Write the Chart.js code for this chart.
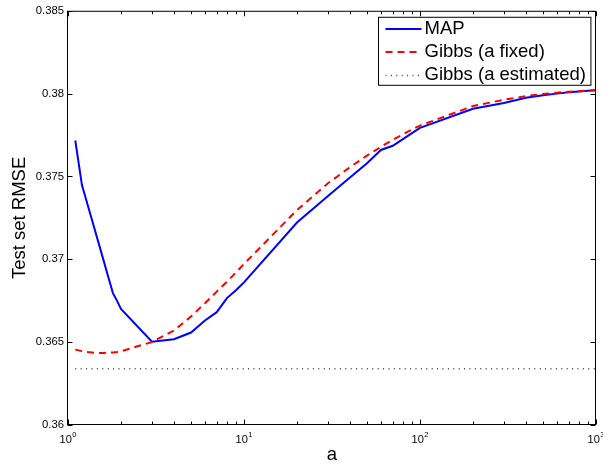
<!DOCTYPE html>
<html lang="en">
<head>
  <meta charset="UTF-8">
  <title>Test set RMSE vs a</title>
  <style>
    body { margin: 0; background: #fff; }
    #chart { display: block; }
  </style>
  <script src="https://cdn.jsdelivr.net/npm/chart.js"></script>
</head>
<body>
  <canvas id="chart" width="603" height="466"></canvas>
  <script>
    // hyperparameter a (log x axis)
    const aValues = [1.1, 1.2, 1.3, 1.4, 1.5, 1.6, 1.7, 1.8, 1.9, 2,
                     3, 4, 5, 6, 7, 8, 9, 10,
                     20, 30, 40, 50, 60, 70, 80, 90, 100,
                     200, 300, 400, 500, 600, 700, 800, 900, 1000];

    const mapRmse = [0.37717, 0.37448, 0.37320, 0.37201, 0.37090, 0.36986, 0.36887, 0.36796, 0.36749, 0.36701,
                     0.36503, 0.36518, 0.36558, 0.36631, 0.36681, 0.36766, 0.36813, 0.36861,
                     0.37222, 0.37382, 0.37494, 0.37580, 0.37660, 0.37685, 0.37725, 0.37762, 0.37793,
                     0.37909, 0.37943, 0.37975, 0.37990, 0.38000, 0.38008, 0.38013, 0.38017, 0.38021];

    const gibbsFixedRmse = [0.36455, 0.36446, 0.36440, 0.36436, 0.36435, 0.36435, 0.36436, 0.36438, 0.36441, 0.36445,
                            0.36501, 0.36570, 0.36655, 0.36735, 0.36805, 0.36865, 0.36920, 0.36972,
                            0.37297, 0.37459, 0.37556, 0.37626, 0.37679, 0.37721, 0.37755, 0.37783, 0.37807,
                            0.37925, 0.37963, 0.37985, 0.37998, 0.38006, 0.38011, 0.38015, 0.38018, 0.38021];

    // estimated-a run is a single value, drawn across the range
    const gibbsEstA = [1.1, 1000];
    const gibbsEstRmse = [0.3634, 0.3634];

    const yTicks = [0.36, 0.365, 0.37, 0.375, 0.38, 0.385];
    const xDecades = [1, 10, 100, 1000];
    const xDecadeExp = ['0', '1', '2', '3'];

    const FONT = '"Liberation Sans", Arial, Helvetica, sans-serif';

    function toPoints(xs, ys) {
      return xs.map((x, i) => ({ x: x, y: ys[i] }));
    }

    // box, inward ticks, 10^k labels and the legend, drawn over the plot
    const matlabAxes = {
      id: 'matlabAxes',
      afterDraw(chart) {
        const ctx = chart.ctx;
        const area = chart.chartArea;
        const xs = chart.scales.x;
        const ys = chart.scales.y;
        const L = area.left - 0.5, R = area.right - 0.5;
        const T = area.top + 0.5, B = area.bottom - 0.5;

        ctx.save();
        ctx.strokeStyle = '#000';
        ctx.lineWidth = 1;
        ctx.strokeRect(L, T, R - L, B - T);

        ctx.beginPath();
        yTicks.forEach(v => {
          const py = Math.round(ys.getPixelForValue(v)) + 0.5;
          ctx.moveTo(L, py); ctx.lineTo(L + 5, py);
          ctx.moveTo(R, py); ctx.lineTo(R - 5, py);
        });
        xDecades.forEach((d, k) => {
          let px = Math.round(xs.getPixelForValue(d)) + 0.5;
          ctx.moveTo(px, B); ctx.lineTo(px, B - 5);
          ctx.moveTo(px, T); ctx.lineTo(px, T + 5);
          if (k === xDecades.length - 1) return;
          for (let m = 2; m <= 9; m++) {
            px = Math.round(xs.getPixelForValue(m * d)) + 0.5;
            ctx.moveTo(px, B); ctx.lineTo(px, B - 3);
            ctx.moveTo(px, T); ctx.lineTo(px, T + 3);
          }
        });
        ctx.stroke();

        // 10^k tick labels
        ctx.fillStyle = '#000';
        ctx.textBaseline = 'alphabetic';
        ctx.textAlign = 'left';
        xDecades.forEach((d, k) => {
          const px = xs.getPixelForValue(d);
          ctx.font = `11px ${FONT}`;
          const bw = ctx.measureText('10').width;
          ctx.font = `7.5px ${FONT}`;
          const ew = ctx.measureText(xDecadeExp[k]).width;
          const x0 = px - (bw + ew + 0.5) / 2;
          ctx.font = `11px ${FONT}`;
          ctx.fillText('10', x0, area.bottom + 17.7);
          ctx.font = `7.5px ${FONT}`;
          ctx.fillText(xDecadeExp[k], x0 + bw + 0.5, area.bottom + 11.7);
        });

        // legend box, top right
        const sets = chart.data.datasets;
        ctx.font = `18.5px ${FONT}`;
        const textW = Math.max(...sets.map(d => ctx.measureText(d.label).width));
        const sample = 36, padL = 7, gap = 3, padR = 5, rowH = 22.8;
        const boxW = padL + sample + gap + textW + padR;
        const boxH = 68;
        const bx = Math.round(area.right - 6 - boxW) + 0.5;
        const by = area.top + 6.5;
        ctx.fillStyle = '#fff';
        ctx.fillRect(bx, by, boxW, boxH);
        ctx.strokeStyle = '#000';
        ctx.lineWidth = 1;
        ctx.setLineDash([]);
        ctx.strokeRect(bx, by, boxW, boxH);

        sets.forEach((d, i) => {
          const ry = by + 12 + i * rowH;
          const ly = Math.round(ry) + (d.borderWidth === 2 ? 0 : 0.5);
          ctx.beginPath();
          ctx.strokeStyle = d.borderColor;
          ctx.lineWidth = d.borderWidth;
          ctx.setLineDash(d.borderDash || []);
          ctx.moveTo(bx + padL, ly);
          ctx.lineTo(bx + padL + sample, ly);
          ctx.stroke();
          ctx.setLineDash([]);
          ctx.fillStyle = '#000';
          ctx.textBaseline = 'middle';
          ctx.fillText(d.label, bx + padL + sample + gap, ry);
        });
        ctx.restore();
      }
    };

    new Chart(document.getElementById('chart'), {
      type: 'line',
      data: {
        datasets: [
          {
            label: 'MAP',
            data: toPoints(aValues, mapRmse),
            borderColor: '#0000ff',
            borderWidth: 2,
            pointRadius: 0,
            tension: 0,
            order: 1
          },
          {
            label: 'Gibbs (a fixed)',
            data: toPoints(aValues, gibbsFixedRmse),
            borderColor: '#ff0000',
            borderWidth: 2,
            borderDash: [7, 5],
            pointRadius: 0,
            tension: 0,
            order: 0
          },
          {
            label: 'Gibbs (a estimated)',
            data: toPoints(gibbsEstA, gibbsEstRmse),
            borderColor: '#444444',
            borderWidth: 1.5,
            borderDash: [1, 4.4],
            pointRadius: 0,
            tension: 0,
            order: 2
          }
        ]
      },
      options: {
        responsive: false,
        animation: false,
        devicePixelRatio: 1,
        layout: { padding: { top: 9, right: 7, left: 0, bottom: 0 } },
        plugins: {
          legend: { display: false },
          tooltip: { enabled: false }
        },
        scales: {
          x: {
            type: 'logarithmic',
            min: 1,
            max: 1000,
            grid: { display: false, drawTicks: false },
            border: { display: false },
            ticks: { display: false },
            title: {
              display: true,
              text: 'a',
              color: '#000',
              font: { family: FONT, size: 18.5 },
              padding: 0
            },
            afterFit(scale) { scale.height = 41; }
          },
          y: {
            type: 'linear',
            min: 0.36,
            max: 0.385,
            afterBuildTicks(scale) { scale.ticks = yTicks.map(v => ({ value: v })); },
            grid: { display: false, drawTicks: false },
            border: { display: false },
            ticks: {
              color: '#000',
              font: { family: FONT, size: 11.3 },
              padding: 4,
              callback: v => String(v)
            },
            title: {
              display: true,
              text: 'Test set RMSE',
              color: '#000',
              font: { family: FONT, size: 18.5 },
              padding: { top: 9, bottom: 0 }
            },
            afterFit(scale) { scale.width = 68; }
          }
        }
      },
      plugins: [matlabAxes]
    });
  </script>
</body>
</html>
